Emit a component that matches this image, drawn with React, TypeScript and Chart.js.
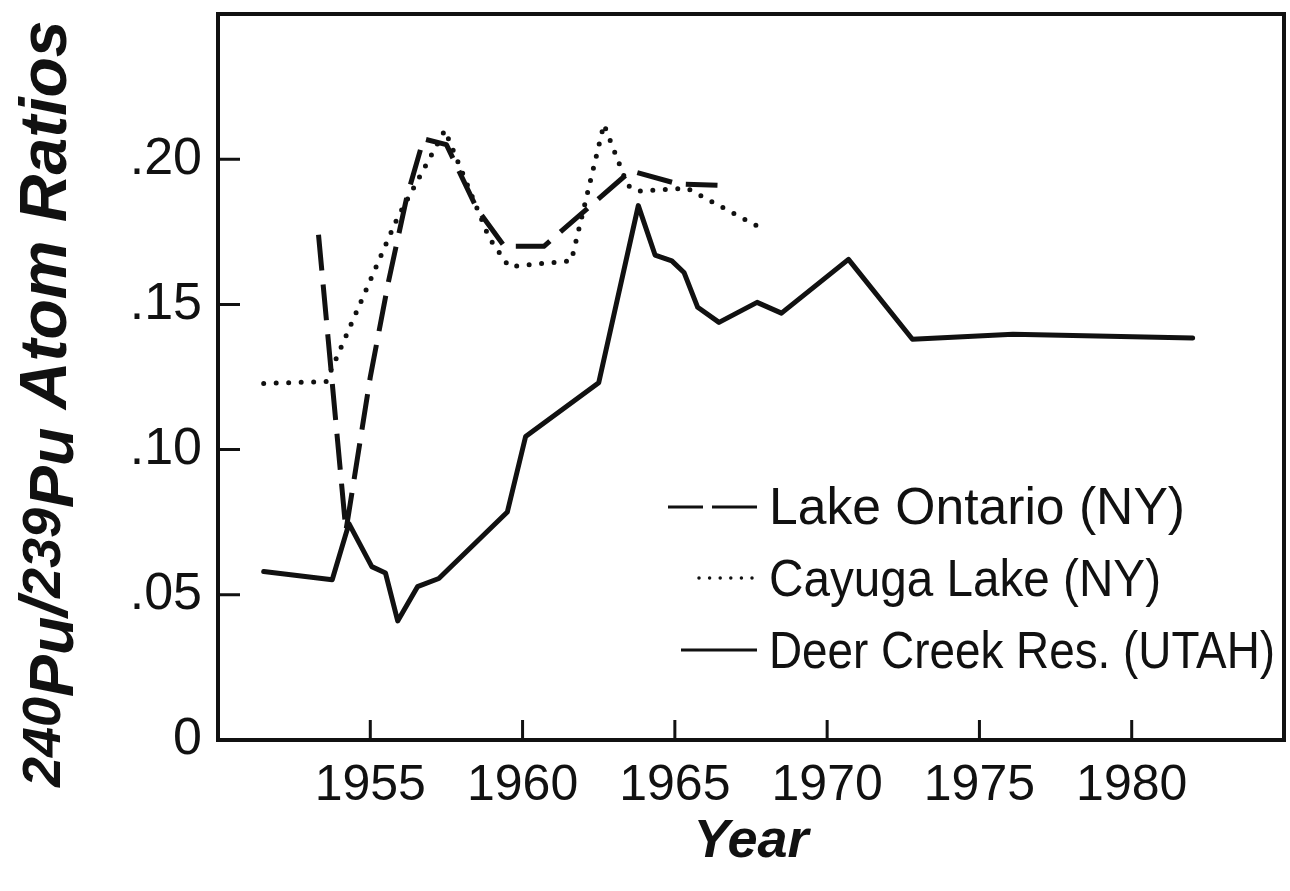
import React, { useEffect, useRef } from 'react';
import { Chart, registerables } from 'chart.js';

Chart.register(...registerables);

// ---- Data ----
const ontarioYears = [1953.3, 1954.2, 1955.0, 1955.6, 1956.2, 1956.75, 1957.5, 1958.5, 1959.4, 1960.7, 1963.55, 1965.1, 1966.4];
const ontarioValues = [0.174, 0.072, 0.125, 0.158, 0.187, 0.207, 0.205, 0.183, 0.170, 0.170, 0.196, 0.1915, 0.191];

const cayugaYears = [1951.5, 1953.55, 1955.9, 1957.45, 1958.9, 1959.55, 1961.6, 1962.67, 1963.45, 1963.75, 1965.4, 1967.7];
const cayugaValues = [0.1228, 0.1234, 0.180, 0.210, 0.173, 0.163, 0.165, 0.212, 0.191, 0.189, 0.190, 0.177];

const deerYears = [1951.5, 1953.75, 1954.3, 1955.05, 1955.5, 1955.9, 1956.55, 1957.25, 1959.5, 1960.1, 1962.5, 1963.8, 1964.35, 1964.9, 1965.3, 1965.75, 1966.45, 1967.7, 1968.5, 1970.7, 1972.8, 1976.1, 1982.0];
const deerValues = [0.058, 0.0552, 0.0745, 0.0597, 0.0575, 0.041, 0.0528, 0.0556, 0.0785, 0.1045, 0.123, 0.184, 0.167, 0.165, 0.161, 0.149, 0.1438, 0.1507, 0.147, 0.1655, 0.138, 0.1397, 0.1384];

const seriesLabels = ['Lake Ontario (NY)', 'Cayuga Lake (NY)', 'Deer Creek Res. (UTAH)'];

const xMin = 1950;
const xMax = 1985;
const yMin = 0;
const yMax = 0.25;
const xTickValues = [1955, 1960, 1965, 1970, 1975, 1980];
const yTickValues = [0, 0.05, 0.1, 0.15, 0.2];
const yTickLabels = ['0', '.05', '.10', '.15', '.20'];

const xTitle = 'Year';
const yTitleParts = [
  { text: '240', kind: 'sup' },
  { text: 'Pu', kind: 'sub' },
  { text: '/', kind: 'norm' },
  { text: '239', kind: 'sup' },
  { text: 'Pu', kind: 'sub' },
  { text: ' Atom Ratios', kind: 'norm' },
];

// ---- Styling ----
const INK = '#111';
const SANS = "'Liberation Sans', Arial, sans-serif";

const toPoints = (xs: number[], ys: number[]) => xs.map((x, i) => ({ x, y: ys[i] }));

const framePlugin = {
  id: 'frameTicks',
  afterDatasetsDraw(chart: any) {
    const { ctx, chartArea } = chart;
    const xs = chart.scales.x;
    const ys = chart.scales.y;
    ctx.save();
    ctx.strokeStyle = INK;
    ctx.lineWidth = 4;
    ctx.lineJoin = 'miter';
    ctx.strokeRect(chartArea.left, chartArea.top, chartArea.right - chartArea.left, chartArea.bottom - chartArea.top);
    ctx.lineWidth = 3;
    ctx.beginPath();
    xTickValues.forEach((v) => {
      const px = xs.getPixelForValue(v);
      ctx.moveTo(px, chartArea.bottom);
      ctx.lineTo(px, chartArea.bottom - 20);
    });
    yTickValues.forEach((v) => {
      if (v === 0) return;
      const py = ys.getPixelForValue(v);
      ctx.moveTo(chartArea.left, py);
      ctx.lineTo(chartArea.left + 22, py);
    });
    ctx.stroke();
    ctx.restore();
  },
};

const yTitlePlugin = {
  id: 'yTitle',
  afterDraw(chart: any) {
    const { ctx } = chart;
    ctx.save();
    ctx.translate(66, 787);
    ctx.rotate(-Math.PI / 2);
    ctx.fillStyle = INK;
    ctx.textBaseline = 'alphabetic';
    ctx.textAlign = 'left';
    let pos = 0;
    yTitleParts.forEach((p) => {
      let size = 66;
      let off = 0;
      if (p.kind === 'sup') { size = 54; off = -6; }
      if (p.kind === 'sub') { size = 63; off = 7; }
      ctx.font = `italic bold ${size}px ${SANS}`;
      ctx.fillText(p.text, pos, off);
      pos += ctx.measureText(p.text).width;
    });
    ctx.restore();
  },
};

const legendPlugin = {
  id: 'boxLegend',
  afterDraw(chart: any) {
    const { ctx } = chart;
    const rows = [
      { lineY: 507, textY: 524, x1: 668, x2: 757, dash: [35, 9, 45, 100], width: 3, cap: 'butt', maxW: 416 },
      { lineY: 578, textY: 596, x1: 699, x2: 752.5, dash: [0, 10.6], width: 3.5, cap: 'round', maxW: 392 },
      { lineY: 650, textY: 668, x1: 681, x2: 757, dash: [], width: 3, cap: 'butt', maxW: 506 },
    ];
    ctx.save();
    ctx.strokeStyle = INK;
    ctx.fillStyle = INK;
    rows.forEach((r, i) => {
      ctx.beginPath();
      ctx.setLineDash(r.dash);
      ctx.lineWidth = r.width;
      ctx.lineCap = r.cap;
      ctx.moveTo(r.x1, r.lineY);
      ctx.lineTo(r.x2, r.lineY);
      ctx.stroke();
      ctx.setLineDash([]);
      ctx.font = `52px ${SANS}`;
      ctx.textBaseline = 'alphabetic';
      ctx.textAlign = 'left';
      ctx.fillText(chart.data.datasets[i].label, 769, r.textY, r.maxW);
    });
    ctx.restore();
  },
};

export default function App() {
  const ref = useRef<HTMLCanvasElement | null>(null);

  useEffect(() => {
    if (!ref.current) return;
    const chart = new Chart(ref.current, {
      type: 'line',
      data: {
        datasets: [
          {
            label: seriesLabels[0],
            data: toPoints(ontarioYears, ontarioValues),
            borderColor: INK,
            borderWidth: 5,
            borderDash: [36, 14],
            borderCapStyle: 'butt',
            borderJoinStyle: 'round',
            pointRadius: 0,
            tension: 0,
            fill: false,
          },
          {
            label: seriesLabels[1],
            data: toPoints(cayugaYears, cayugaValues),
            borderColor: INK,
            borderWidth: 5,
            borderDash: [0, 12.5],
            borderCapStyle: 'round',
            borderJoinStyle: 'round',
            pointRadius: 0,
            tension: 0,
            fill: false,
          },
          {
            label: seriesLabels[2],
            data: toPoints(deerYears, deerValues),
            borderColor: INK,
            borderWidth: 5,
            borderCapStyle: 'round',
            borderJoinStyle: 'round',
            pointRadius: 0,
            tension: 0,
            fill: false,
          },
        ],
      },
      options: {
        animation: false,
        responsive: false,
        maintainAspectRatio: false,
        devicePixelRatio: 1,
        layout: { padding: { left: 0, right: 6, top: 14, bottom: 0 } },
        plugins: { legend: { display: false }, tooltip: { enabled: false } },
        scales: {
          x: {
            type: 'linear',
            min: xMin,
            max: xMax,
            afterBuildTicks: (s: any) => { s.ticks = xTickValues.map((v) => ({ value: v })); },
            afterFit: (s: any) => { s.height = 151; s.paddingLeft = 0; s.paddingRight = 0; },
            grid: { display: false, drawTicks: false },
            border: { display: false },
            ticks: {
              color: INK,
              font: { family: SANS, size: 50 },
              padding: 16,
              maxRotation: 0,
              autoSkip: false,
              callback: (v: any) => String(v),
            },
            title: {
              display: true,
              text: xTitle,
              color: INK,
              font: { family: SANS, size: 54, style: 'italic', weight: 'bold' },
              padding: { top: 0, bottom: 16 },
            },
          },
          y: {
            type: 'linear',
            min: yMin,
            max: yMax,
            afterBuildTicks: (s: any) => { s.ticks = yTickValues.map((v) => ({ value: v })); },
            afterFit: (s: any) => { s.width = 218; s.paddingTop = 0; s.paddingBottom = 0; },
            grid: { display: false, drawTicks: false },
            border: { display: false },
            ticks: {
              color: INK,
              font: { family: SANS, size: 52 },
              padding: 16,
              autoSkip: false,
              callback: (v: any) => {
                const i = yTickValues.findIndex((t) => Math.abs(t - v) < 1e-9);
                return i >= 0 ? yTickLabels[i] : '';
              },
            },
          },
        },
      },
      plugins: [framePlugin, yTitlePlugin, legendPlugin],
    } as any);
    return () => chart.destroy();
  }, []);

  return (
    <div style={{ position: 'fixed', left: 0, top: 0, width: 1290, height: 891, background: '#fff' }}>
      <canvas ref={ref} width={1290} height={891} style={{ width: 1290, height: 891, display: 'block' }} />
    </div>
  );
}
